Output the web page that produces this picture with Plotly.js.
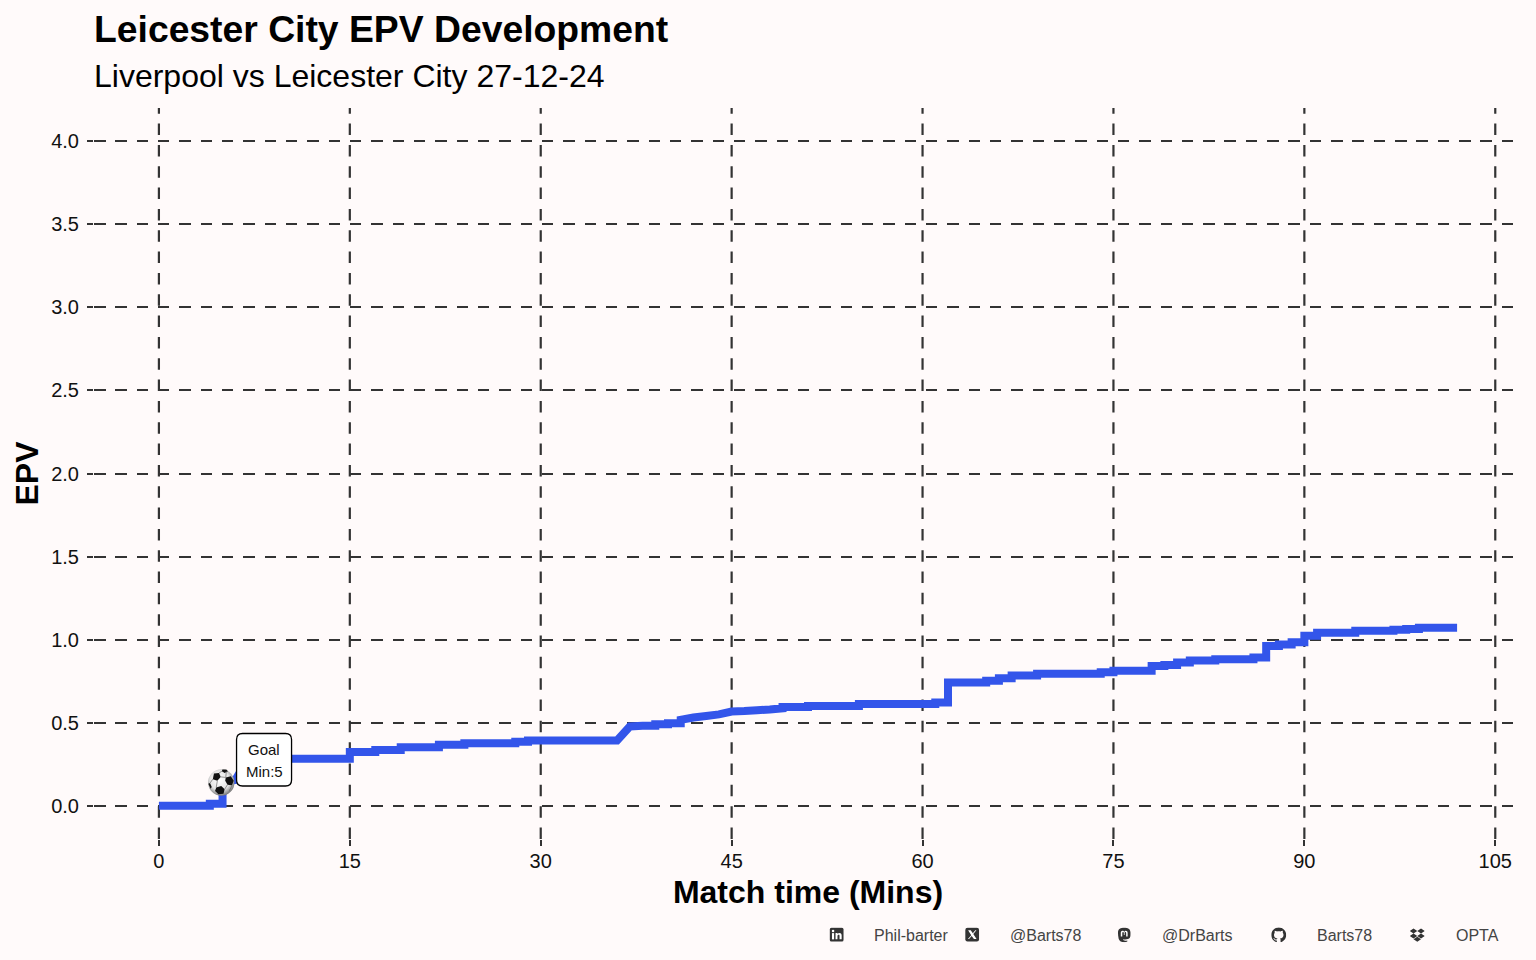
<!DOCTYPE html>
<html>
<head>
<meta charset="utf-8">
<script src="https://cdn.plot.ly/plotly-3.0.1.min.js"></script>
<style>html,body{margin:0;padding:0;background:#FFFAFA}#chart{width:1536px;height:960px}</style>
</head>
<body>
<div id="chart"></div>
<script>
const matchMinutes = [0,4,4,5,5,6,7,10,15,15,17,17,19,19,22,22,24,24,28,28,29,29,36,37,38,39,39,40,40,41,41,42,43,44,45,46,47,48,49,49,51,51,55,55,61,61,62,62,65,65,66,66,67,67,69,69,74,74,75,75,78,78,79,79,80,80,81,81,83,83,86,86,87,87,88,88,89,89,90,90,91,91,94,94,97,97,98,98,99,99,102];
const epvValues = [0,0,0.012,0.012,0.14,0.155,0.283,0.283,0.283,0.323,0.323,0.335,0.335,0.353,0.353,0.367,0.367,0.377,0.377,0.385,0.385,0.393,0.393,0.477,0.481,0.481,0.491,0.491,0.497,0.497,0.517,0.531,0.54,0.55,0.567,0.57,0.575,0.58,0.587,0.594,0.594,0.601,0.601,0.612,0.612,0.621,0.621,0.742,0.742,0.752,0.752,0.768,0.768,0.784,0.784,0.794,0.794,0.804,0.804,0.812,0.812,0.842,0.842,0.848,0.848,0.862,0.862,0.874,0.874,0.882,0.882,0.892,0.892,0.962,0.962,0.971,0.971,0.984,0.984,1.023,1.023,1.042,1.042,1.053,1.053,1.059,1.059,1.064,1.064,1.072,1.072];
const xTicks = [0,15,30,45,60,75,90,105];
const yTicks = [0,0.5,1,1.5,2,2.5,3,3.5,4];
const yTickLabels = ['0.0','0.5','1.0','1.5','2.0','2.5','3.0','3.5','4.0'];
const goalMinute = 5;
const goalEpv = 0.14;
const goalLines = ['Goal','Min:5'];
const footerTexts = ['Phil-barter','@Barts78','@DrBarts','Barts78','OPTA'];

const svgUri = s => 'data:image/svg+xml;charset=utf-8,' + encodeURIComponent(s);
const wrap = b => '<svg xmlns="http://www.w3.org/2000/svg" viewBox="0 0 24 24" width="96" height="96">' + b + '</svg>';
const ballSvg = '<svg xmlns="http://www.w3.org/2000/svg" viewBox="0 0 48 48" width="192" height="192"><defs><radialGradient id="g" cx="45%" cy="42%" r="62%"><stop offset="0" stop-color="#fff"/><stop offset="0.6" stop-color="#e4e4e4"/><stop offset="1" stop-color="#666"/></radialGradient></defs><circle cx="24" cy="24" r="23.500" fill="url(#g)"/><g fill="#111"><path d="M11 8 l9 -1 l3 7 l-6 7 l-8 -3 z"/><path d="M32 15 l9 -2 l5 8 l-3 8 l-8 -1 l-4 -7 z"/><path d="M15 33 l9 -3 l6 6 l-2 8 l-9 1 l-6 -6 z"/><path d="M26 1 l7 0 l3 3 l-6 3 l-5 -3 z"/><path d="M1 26 l3 -1 l3 7 l-2 3 z"/></g><g stroke="#666" stroke-width="1.200" fill="none"><path d="M23 14 L32 15 M17 21 L15 33 M35 28 L30 36 M20 7 L25 4 M33 4 L32 15 M9 18 L4 25 M43 29 L38 40"/></g></svg>';
const iconSvgs = [
  wrap('<rect x="1" y="1" width="22" height="22" rx="2.5" fill="#333"/><rect x="4.5" y="9.5" width="3.4" height="10" fill="#fff"/><circle cx="6.2" cy="6.2" r="2" fill="#fff"/><path d="M10.2 9.5h3.2v1.5c.7-1.1 1.8-1.8 3.2-1.8 2.6 0 3.4 1.7 3.4 4.2v6.1h-3.4v-5.4c0-1.3-.3-2.1-1.4-2.1-1.3 0-1.9.9-1.9 2.2v5.3h-3.1z" fill="#fff"/>'),
  wrap('<rect x="1" y="1" width="22" height="22" rx="3.5" fill="#333"/><path d="M5.5 5h4.2l3.3 4.6L17 5h1.8l-5 5.8L19 19h-4.2l-3.6-5L7 19H5.2l5.3-6.1z" fill="#fff"/>'),
  wrap('<path d="M12 1c5.6 0 10 1.7 10 7.5 0 3 .2 6.5-1 8.6-1.2 2-4.3 2.7-7.5 2.7-1.4 0-2.6-.2-3.4-.4.1 1.6 1.6 2.3 3.6 2.3 1.1 0 2.2-.2 3.2-.4l.1 1.6c-1.4.8-3.1 1.1-4.7 1.1C7.8 24 4 22.400 3.100 18.500 2.300 15 2 11.500 2 8.500 2 2.700 6.400 1 12 1z" fill="#333"/><path d="M6.500 15V9c0-2 1.200-3.200 2.900-3.200 1.300 0 2.100.7 2.600 1.800.5-1.100 1.300-1.800 2.600-1.800 1.700 0 2.900 1.200 2.900 3.200v6h-2.400V9.300c0-1-.5-1.500-1.200-1.500-.9 0-1.300.6-1.300 1.700v2.900h-1.200V9.500c0-1.100-.4-1.700-1.300-1.700-.7 0-1.200.5-1.200 1.500V15z" fill="#fff"/>'),
  wrap('<path fill="#333" d="M12 .5C5.400.5 0 5.900 0 12.500c0 5.300 3.400 9.800 8.200 11.400.6.1.8-.3.8-.6v-2.100c-3.300.7-4-1.400-4-1.400-.5-1.400-1.300-1.800-1.300-1.800-1.100-.7.1-.7.1-.7 1.200.1 1.800 1.200 1.800 1.200 1.100 1.800 2.800 1.300 3.500 1 .1-.8.4-1.300.8-1.600-2.700-.3-5.500-1.300-5.500-5.900 0-1.300.5-2.400 1.200-3.200-.1-.3-.5-1.500.1-3.200 0 0 1-.3 3.300 1.200 1-.3 2-.4 3-.4s2 .1 3 .4c2.300-1.500 3.300-1.200 3.300-1.200.6 1.700.2 2.900.1 3.200.8.8 1.200 1.900 1.200 3.200 0 4.600-2.800 5.600-5.500 5.900.4.400.8 1.100.8 2.200v3.300c0 .3.2.7.8.6C20.600 22.300 24 17.800 24 12.500 24 5.900 18.600.5 12 .5z"/>'),
  wrap('<path fill="#333" d="M6 2L0 6l6 4 6-4zM18 2l-6 4 6 4 6-4zM0 14l6 4 6-4-6-4zM18 10l-6 4 6 4 6-4zM6 19.500l6 4 6-4-6-4z"/>')
];

const L = 94, R = 14.3, T = 107.75, B = 120.75;
const plotW = 1536 - L - R, plotH = 960 - T - B;
const px = v => (v - L) / plotW;
const py = v => (960 - B - v) / plotH;
const iconX = [836.5, 972, 1124, 1278.5, 1417];
const footerX = [872, 1008, 1160, 1315, 1454];
const footerY = 936;
const iconY = 935;

const gridColor = '#333333';
const dash = '11.5px,9.83px';
const images = iconSvgs.map((s, i) => ({
  source: svgUri(s), xref: 'paper', yref: 'paper',
  x: px(iconX[i]), y: py(iconY), sizex: 15 / plotW, sizey: 15 / plotH,
  xanchor: 'center', yanchor: 'middle', layer: 'above', sizing: 'contain'
}));
images.push({
  source: svgUri(ballSvg), xref: 'x', yref: 'y', x: goalMinute - 0.1, y: goalEpv,
  sizex: 27 / 12.724, sizey: 27 / 166.25, xanchor: 'center', yanchor: 'middle', layer: 'above', sizing: 'stretch'
});

const shapes = xTicks.map(t => ({
  type: 'line', xref: 'x', yref: 'paper', x0: t, x1: t, y0: 0, y1: 1, layer: 'below',
  line: {color: gridColor, width: 2.2, dash: dash}
}));
// rounded label box anchored to the goal point
shapes.push({
  type: 'path', xref: 'x', yref: 'y', xsizemode: 'pixel', ysizemode: 'pixel',
  xanchor: goalMinute, yanchor: goalEpv, layer: 'above',
  path: 'M 20,49 H 63 Q 69,49 69,43 V 2.500 Q 69,-3.500 63,-3.500 H 20 Q 14,-3.500 14,2.500 V 43 Q 14,49 20,49 Z',
  fillcolor: '#ffffff', line: {color: '#000000', width: 1.3}
});

const annotations = footerTexts.map((t, i) => ({
  text: t, xref: 'paper', yref: 'paper', x: px(footerX[i]), y: py(footerY),
  xanchor: 'left', yanchor: 'middle', showarrow: false,
  font: {family: 'Liberation Sans', size: 16, color: '#444444'}
}));
goalLines.forEach((t, i) => annotations.push({
  text: t, xref: 'x', yref: 'y', x: goalMinute, y: goalEpv, xshift: 41.500, yshift: 33 - 22 * i,
  xanchor: 'center', yanchor: 'middle', showarrow: false,
  font: {family: 'Liberation Sans', size: 15, color: '#111111'}
}));
annotations.push({
  text: 'Leicester City EPV Development', xref: 'paper', yref: 'paper', x: 0, y: py(29),
  xanchor: 'left', yanchor: 'middle', showarrow: false, xshift: -2,
  font: {family: 'Liberation Sans', size: 37.3, color: '#000000', weight: 700}
});
annotations.push({
  text: 'Liverpool vs Leicester City 27-12-24', xref: 'paper', yref: 'paper', x: 0, y: py(76),
  xanchor: 'left', yanchor: 'middle', showarrow: false, xshift: -2,
  font: {family: 'Liberation Sans', size: 32, color: '#000000'}
});

const traces = [{
  x: matchMinutes, y: epvValues, type: 'scatter', mode: 'lines',
  line: {color: '#3355EA', width: 8, shape: 'linear', simplify: false},
  hoverinfo: 'x+y', showlegend: false
}];

const layout = {
  width: 1536, height: 960,
  paper_bgcolor: '#FFFAFA', plot_bgcolor: '#FFFAFA',
  margin: {l: L, r: R, t: T, b: B, pad: 0},
  showlegend: false,
  font: {family: 'Liberation Sans', color: '#000'},
  xaxis: {
    range: [-5.1, 107.1], tickmode: 'array', tickvals: xTicks, ticktext: xTicks.map(String),
    showgrid: false, zeroline: false, showline: false,
    ticks: 'outside', ticklen: 6, tickwidth: 2.2, tickcolor: gridColor, ticklabelstandoff: -2,
    tickfont: {family: 'Liberation Sans', size: 20, color: '#111'},
    title: {text: 'Match time (Mins)', standoff: 9, font: {family: 'Liberation Sans', size: 32, color: '#000', weight: 700}}
  },
  yaxis: {
    range: [-0.2, 4.2], tickmode: 'array', tickvals: yTicks, ticktext: yTickLabels,
    showgrid: true, gridcolor: gridColor, gridwidth: 2.2, griddash: dash, zeroline: false, showline: false,
    ticks: 'outside', ticklen: 6, tickwidth: 2.2, tickcolor: gridColor, ticklabelstandoff: 4,
    tickfont: {family: 'Liberation Sans', size: 20, color: '#111'},
    title: {text: 'EPV', standoff: 2, font: {family: 'Liberation Sans', size: 32, color: '#000', weight: 700}}
  },
  shapes: shapes, annotations: annotations, images: images
};
Plotly.newPlot('chart', traces, layout, {displayModeBar: false, responsive: false});
</script>
</body>
</html>
